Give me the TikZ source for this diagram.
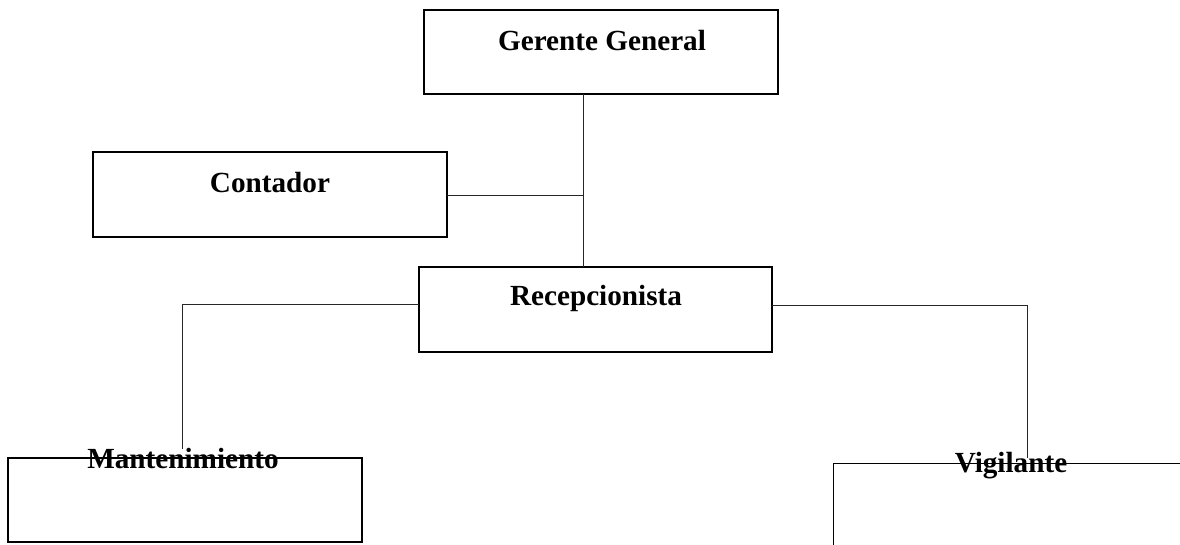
\documentclass[tikz,border=0pt]{standalone}
\usepackage{fontspec}
\setmainfont{Liberation Serif}
\begin{document}
\begin{tikzpicture}[x=1pt,y=1pt,
  boxnode/.style={draw=black,line width=1.8pt,rectangle,inner sep=0pt,outer sep=0pt},
  lbl/.style={anchor=base,inner sep=0pt,font=\fontsize{29.2}{33}\selectfont\bfseries},
  conn/.style={draw=black!85,line width=0.8pt}]
\useasboundingbox (0,0) rectangle (1180,-544);
\clip (0,0) rectangle (1180,-544);
\fill[white] (0,0) rectangle (1180,-544);
% boxes
\node[boxnode,minimum width=354pt,minimum height=84pt] (gg) at (601,-52) {};
\node[boxnode,minimum width=354pt,minimum height=85pt] (ct) at (270,-194.5) {};
\node[boxnode,minimum width=353pt,minimum height=85pt] (rp) at (595.5,-309.5) {};
\node[boxnode,minimum width=354pt,minimum height=84pt] (mt) at (185,-500) {};
\node[boxnode,line width=1pt,minimum width=354pt,minimum height=84pt] (vg) at (1010,-505) {};
% connector points
\coordinate (j1) at (583,-195);
\coordinate (lj) at (182,-304);
\coordinate (lt) at (182,-449);
\coordinate (rj) at (1027,-305);
\coordinate (rt) at (1027,-458);
% connectors
\draw[conn] (gg.south -| j1) -- (rp.north -| j1);
\draw[conn] (ct.east |- j1) -- (j1);
\draw[conn] (rp.west |- lj) -- (lj) -- (lt);
\draw[conn] (rp.east |- rj) -- (rj) -- (rt);
% labels
\node[lbl] (tgg) at (602,-50) {Gerente General};
\node[lbl] (tct) at (270,-192) {Contador};
\node[lbl] (trp) at (596,-305) {Recepcionista};
\node[lbl] (tmt) at (183,-468) {Mantenimiento};
\node[lbl] (tvg) at (1011,-472) {Vigilante};
\end{tikzpicture}
\end{document}
